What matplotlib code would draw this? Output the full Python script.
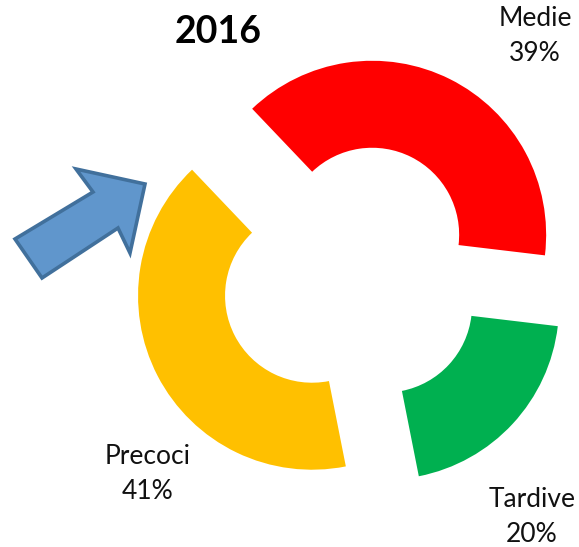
#!/usr/bin/env python3
"""Exploded donut chart, 2016 shares (Precoci / Medie / Tardive)."""

import matplotlib

matplotlib.use("Agg")
import matplotlib.pyplot as plt  # noqa: E402
from matplotlib.patches import Polygon  # noqa: E402

W, H = 579, 547

CATEGORIES = ["Precoci", "Medie", "Tardive"]
SHARES = [41, 39, 20]
COLORS = ["#FFC000", "#FF0000", "#00B050"]
TITLE = "2016"

# label anchor points, in image pixels (x, y from top)
LABEL_POS = [(148, 474), (535, 36), (532, 517)]

# block arrow outline, image pixels
ARROW = [(15, 239), (93, 192), (76, 169), (145, 184),
         (130, 253), (118, 228), (42, 278)]


def main() -> int:
    plt.rcParams["font.family"] = ["Lato", "DejaVu Sans"]
    fig = plt.figure(figsize=(W / 100, H / 100), dpi=100)
    ax = fig.add_axes([0, 0, 1, 1])

    ax.pie(
        SHARES,
        colors=COLORS,
        startangle=281.2,
        counterclock=False,
        radius=174,
        center=(352, H - 275),
        explode=[45] * len(SHARES),
        wedgeprops={"width": 87, "linewidth": 0},
        normalize=True,
        frame=True,
    )

    for (x, y), name, val in zip(LABEL_POS, CATEGORIES, SHARES):
        ax.text(x, H - y, f"{name}\n{val}%", ha="center", va="center",
                fontsize=19, color="#111111", linespacing=1.5)

    ax.text(218, H - 32, TITLE, ha="center", va="center",
            fontsize=27, fontweight="bold", color="black")

    ax.add_patch(Polygon([(x, H - y) for x, y in ARROW], closed=True,
                         facecolor="#6096CC", edgecolor="#41709C",
                         linewidth=2.6, joinstyle="miter"))

    ax.set_xlim(0, W)
    ax.set_ylim(0, H)
    ax.set_aspect("auto")
    ax.axis("off")
    fig.savefig("out.png", dpi=100)
    plt.close(fig)
    return 0


if __name__ == "__main__":
    raise SystemExit(main())
